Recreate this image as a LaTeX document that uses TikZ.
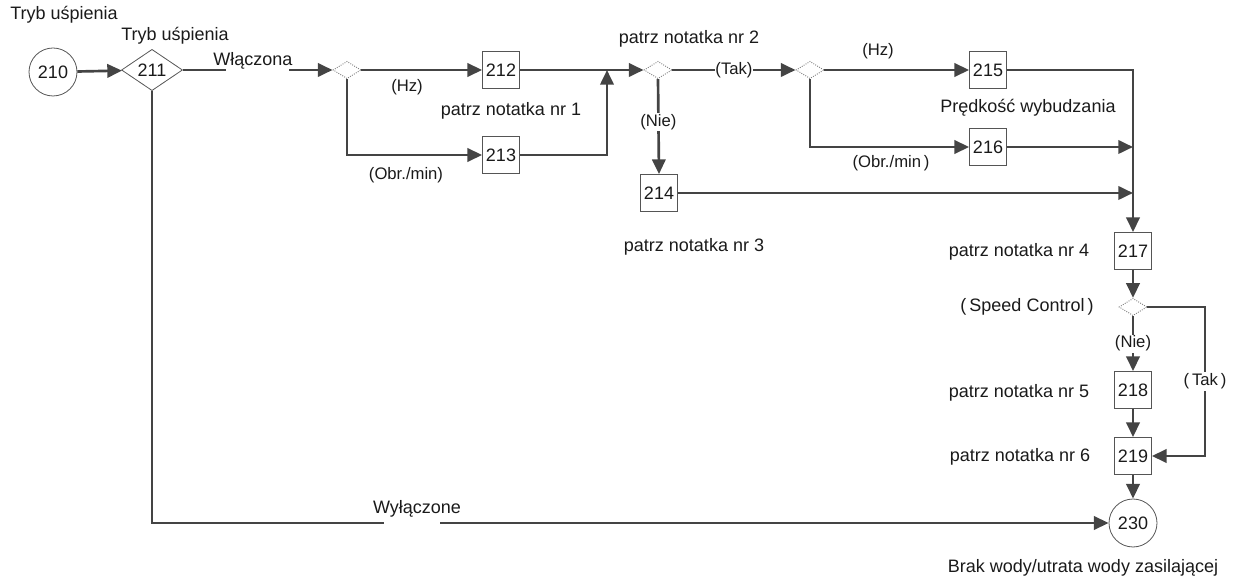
\documentclass[tikz,border=0pt]{standalone}
\usepackage{fontspec}
\setmainfont{Liberation Sans}
\usepackage{xcolor}
\usetikzlibrary{arrows.meta,positioning,calc,shapes.geometric}
\definecolor{Ink}{HTML}{1A1A1A}
\definecolor{Wire}{HTML}{444444}
\definecolor{Frame}{HTML}{555555}
\definecolor{Dots}{HTML}{808080}
\tikzset{
  numbox/.style={draw=Frame,line width=0.6pt,minimum size=27.75pt,inner sep=0pt,font=\fontsize{13.5}{15}\selectfont,text=Ink},
  endpt/.style={circle,draw=Frame,line width=0.6pt,minimum size=36pt,inner sep=0pt,font=\fontsize{13.5}{15}\selectfont,text=Ink},
  choice/.style={diamond,draw=Frame,line width=0.6pt,minimum width=45.75pt,minimum height=27pt,inner sep=0pt,font=\fontsize{13.5}{15}\selectfont,text=Ink},
  fork/.style={diamond,draw=Dots,densely dotted,line width=0.7pt,minimum width=21pt,minimum height=13pt,inner sep=0pt},
  note/.style={font=\fontsize{13.5}{15}\selectfont,text=Ink,inner sep=0pt},
  tag/.style={font=\fontsize{12.5}{14}\selectfont,text=Ink,inner sep=0pt},
  gaptag/.style={tag,fill=white,inner xsep=0.5pt,inner ysep=1pt},
  cut/.style={fill=white,inner sep=0pt,minimum height=4pt},
  wire/.style={draw=Wire,line width=2pt},
  arr/.style={-{Triangle[length=11pt,width=10pt]},draw=Wire,line width=2pt}
}
\begin{document}
\begin{tikzpicture}[x=0.75pt,y=-0.75pt]
  \path[use as bounding box] (0,0) rectangle (1235,580);

  % main row
  \node[endpt] (n210) at (53,72) {210};
  \node[choice] (n211) at (152,70) {211};
  \node[fork] (f1) at (347,70) {};
  \node[numbox] (n212) at (501,70) {212};
  \node[numbox] (n213) at (501,155) {213};
  \node[fork] (f2) at (658,70) {};
  \node[numbox] (n214) at (659,193) {214};
  \node[fork] (f3) at (810,70) {};
  \node[numbox] (n215) at (988,70) {215};
  \node[numbox] (n216) at (988,147) {216};

  % right column
  \node[numbox] (n217) at (1133,251) {217};
  \node[fork] (f4) at (1133,307) {};
  \node[numbox] (n218) at (1133,390) {218};
  \node[numbox] (n219) at (1133,456) {219};
  \node[endpt] (n230) at (1133,523) {230};

  \coordinate (join1) at (607,70);
  \coordinate (takcol) at (1205,307);

  % texts
  \node[note] at (64,15) {Tryb uśpienia};
  \node[note] at (175,36) {Tryb uśpienia};
  \node[note] at (511,111) {patrz notatka nr 1};
  \node[note] at (689,39) {patrz notatka nr 2};
  \node[note] at (694,247) {patrz notatka nr 3};
  \node[note] at (1028,108) {Prędkość wybudzania};
  \node[note] at (1019,252) {patrz notatka nr 4};
  \node[note] at (1027,307) {(\,Speed Control\,)};
  \node[note] at (1019,393) {patrz notatka nr 5};
  \node[note] at (1020,457) {patrz notatka nr 6};
  \node[note] at (1083,568) {Brak wody/utrata wody zasilającej};
  \node[tag] at (407,87) {(Hz)};
  \node[tag] at (406,175) {(Obr./min)};
  \node[tag] at (878,51) {(Hz)};
  \node[tag] at (891,163) {(Obr./min\,)};

  % connectors
  \draw[arr] (n210) -- (n211);
  \draw[arr] (n211.east) -- node[cut,minimum width=47pt] {} (f1.west);
  \node[note] at (253,61) {Włączona};
  \draw[arr] (n211.south) |- node[pos=0.636,cut,minimum width=42pt] {} (n230.west);
  \node[note] at (417,509) {Wyłączone};

  \draw[arr] (f1.east) -- (n212.west);
  \draw[arr] (f1.south) |- (n213.west);
  \draw[arr] (n212.east) -- (f2.west);
  \draw[arr] (n213.east) -| (join1);
  \draw[arr] (f2.east) -- node[gaptag] {(Tak)} (f3.west);
  \draw[arr] (f2.south) -- node[gaptag,pos=0.45] {(Nie)} (n214.north);
  \draw[arr] (f3.east) -- (n215.west);
  \draw[arr] (f3.south) |- (n216.west);
  \draw[arr] (n215.east) -| (n217.north);
  \draw[arr] (n216.east) -- (n216.east -| n217);
  \draw[arr] (n214.east) -- (n214.east -| n217);

  \draw[arr] (n217) -- (f4.north);
  \draw[arr] (f4.south) -- node[gaptag,pos=0.5] {(Nie)} (n218.north);
  \draw[arr] (f4.east) -- (takcol) |- node[gaptag,pos=0.25] {(\,Tak\,)} (n219.east);
  \draw[arr] (n218) -- (n219);
  \draw[arr] (n219) -- (n230);
\end{tikzpicture}
\end{document}
